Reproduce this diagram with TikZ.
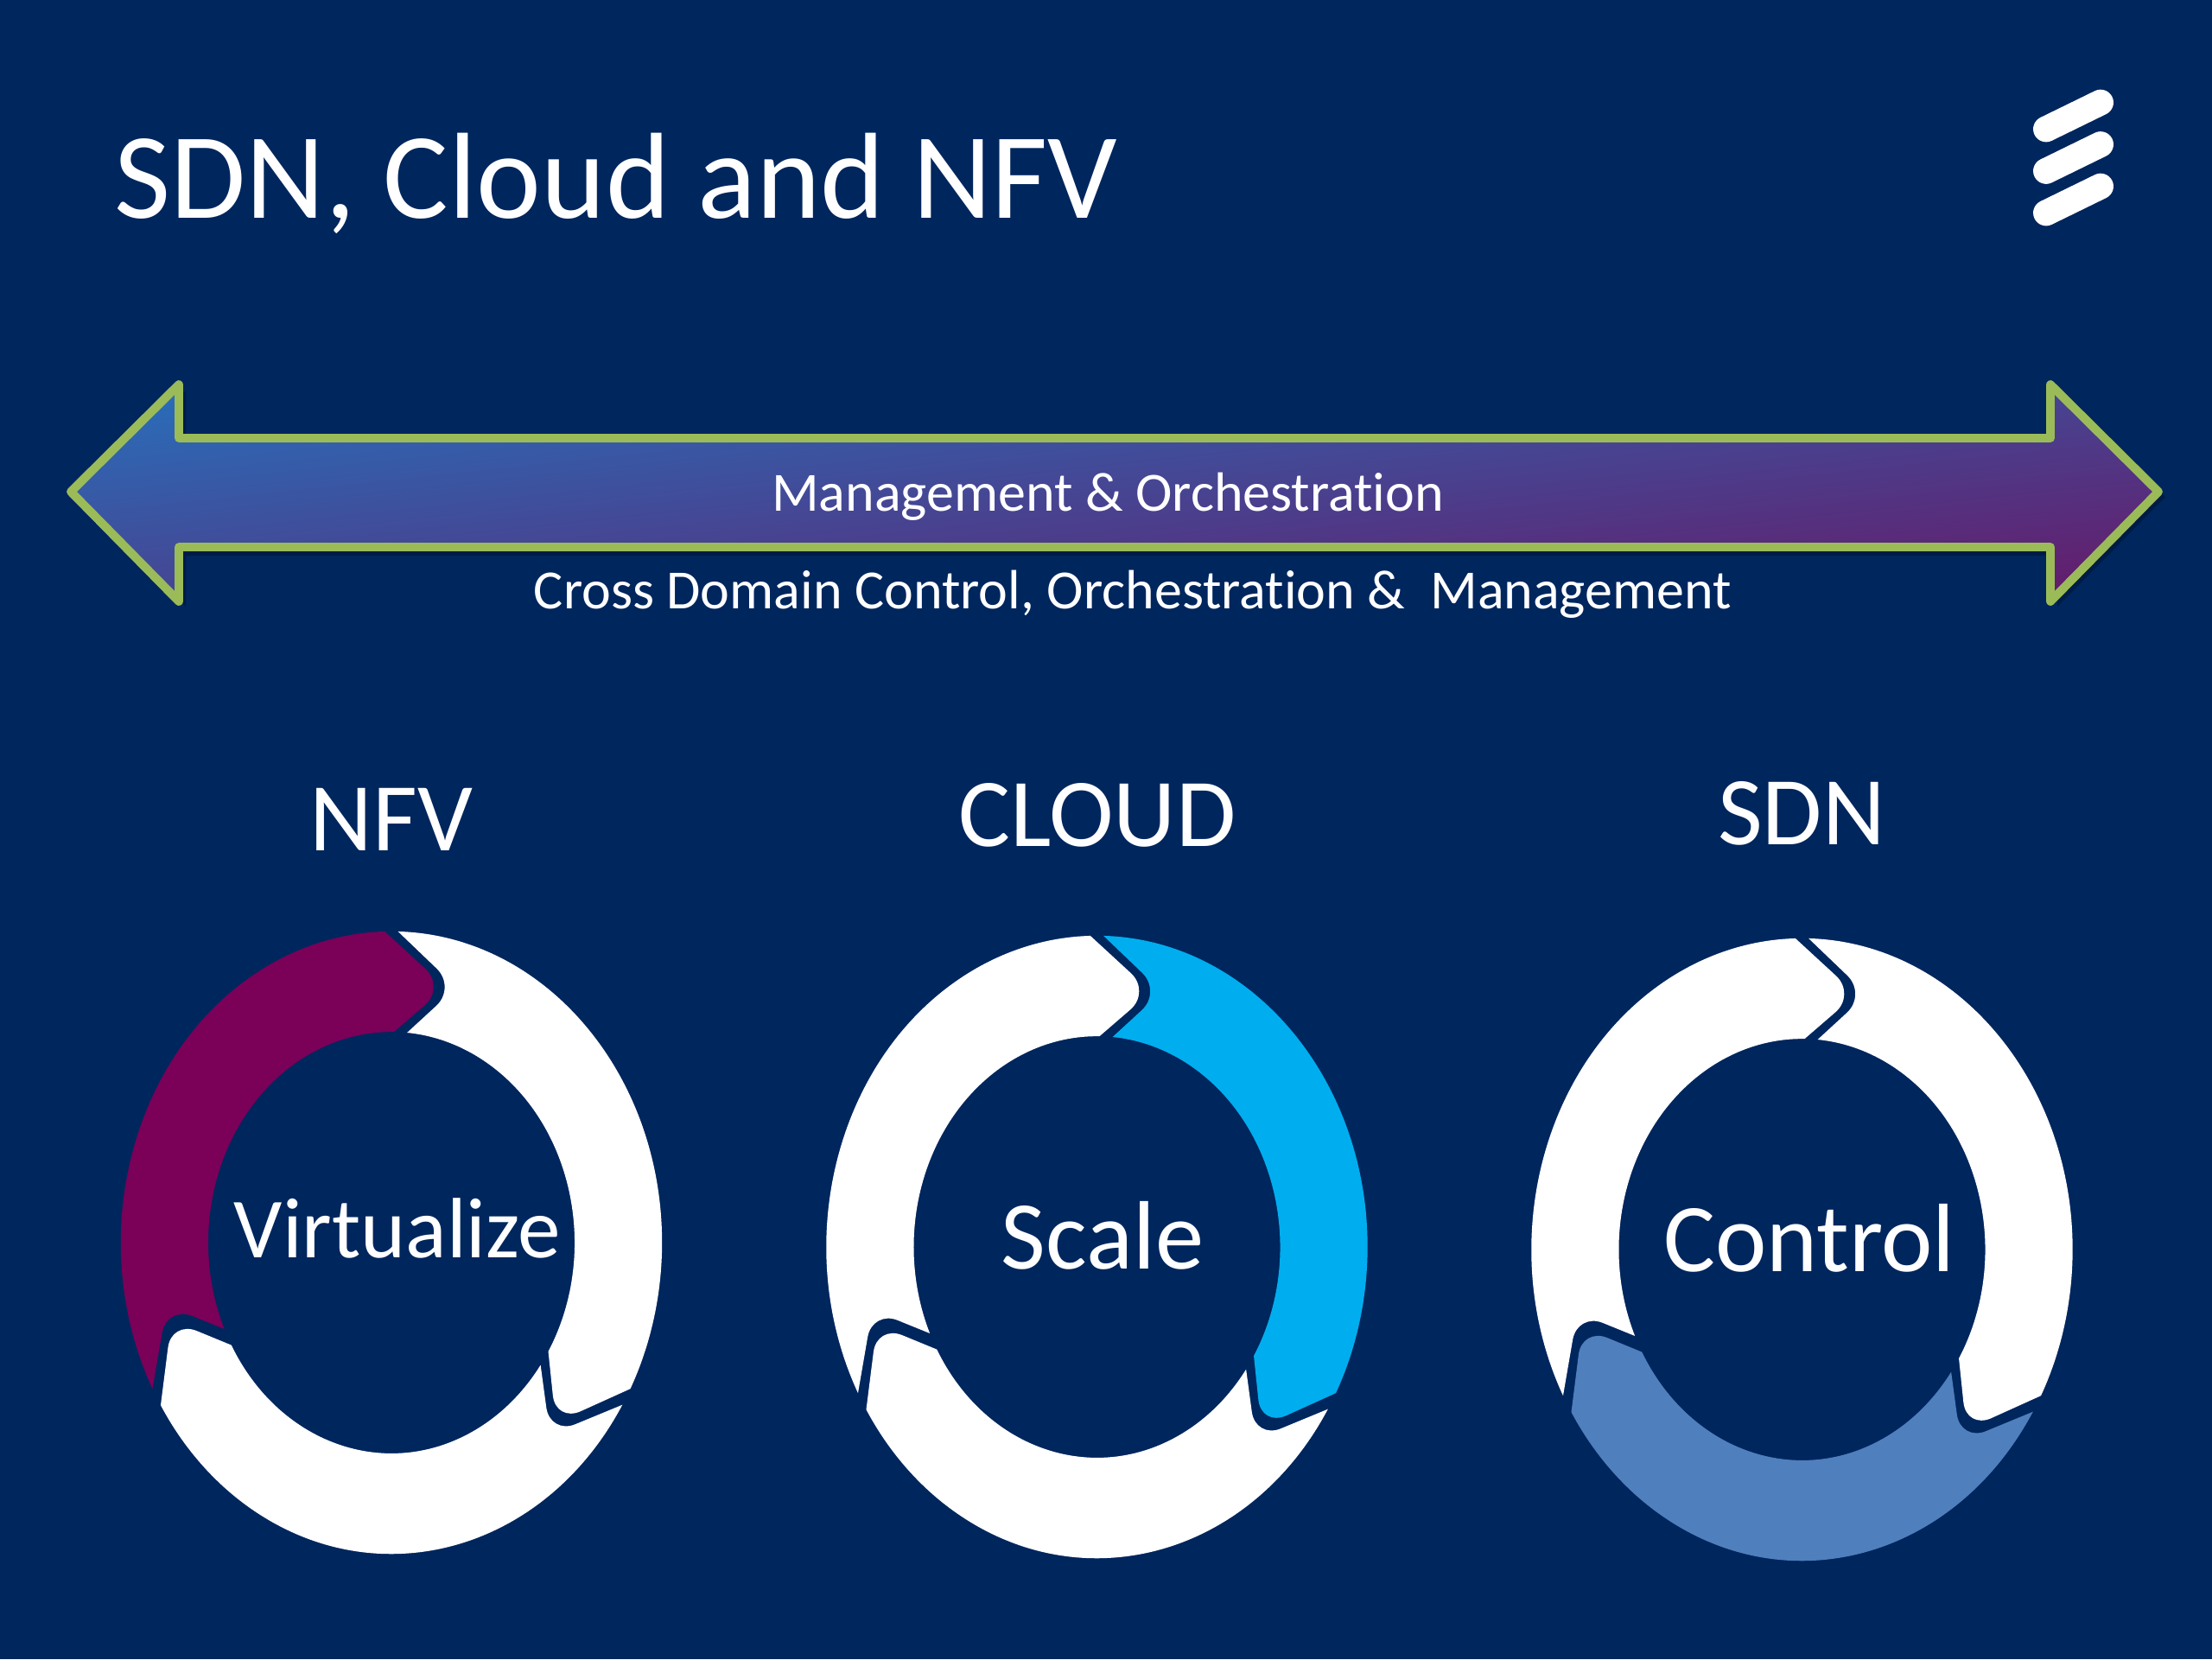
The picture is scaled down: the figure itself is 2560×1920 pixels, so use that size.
\documentclass[tikz,border=0pt]{standalone}
\usepackage{fontspec}
\usepackage{tikz}
\usetikzlibrary{positioning}
\setmainfont{Carlito}[Ligatures=NoCommon]
\definecolor{slidebg}{HTML}{00265E}
\definecolor{plum}{HTML}{7A0058}
\definecolor{skyblue}{HTML}{00AEEF}
\definecolor{steelblue}{HTML}{4F7FBC}
\definecolor{edgegreen}{HTML}{9BBB59}
\definecolor{arrowblue}{HTML}{2A6CB8}
\definecolor{arrowpurple}{HTML}{631D6C}

% one ring, three pieces: #1 centre, #2 left piece, #3 right piece, #4 bottom piece
\newcommand{\ringpieces}[4]{
    \begin{scope}[shift={#1}, x=3.13cm, y=3.6cm]
        % left piece, head at the top
        \fill[#2] (208:1) arc[start angle=208, end angle=91.4, radius=1]
            [rounded corners=9pt] -- (0.2,0.82) [sharp corners] -- (89.2:0.677)
            arc[start angle=89.2, end angle=204.2, radius=0.677]
            [rounded corners=9pt] -- (-0.83,-0.2025) [sharp corners] -- cycle;
        % right piece, head at the lower right
        \fill[#3] (88.6:1) arc[start angle=88.6, end angle=-28, radius=1]
            [rounded corners=9pt] -- (0.607,-0.578) [sharp corners] -- (-31.1:0.677)
            arc[start angle=-31.1, end angle=85.1, radius=0.677]
            [rounded corners=9pt] -- (0.24,0.82) [sharp corners] -- cycle;
        % bottom piece, head at the lower left
        \fill[#4] (-31.4:1) arc[start angle=-31.4, end angle=-148.5, radius=1]
            [rounded corners=9pt] -- (-0.813,-0.25) [sharp corners] -- (209.1:0.677)
            arc[start angle=209.1, end angle=324.5, radius=0.677]
            [rounded corners=9pt] -- (0.586,-0.617) [sharp corners] -- cycle;
    \end{scope}
}

\begin{document}
\begin{tikzpicture}[
    x=0.01cm, y=-0.01cm,
    title/.style={text=white, font=\fontsize{40.3}{41}\selectfont, anchor=base west, inner sep=0},
    band/.style={text=white, font=\fontsize{18.2}{19}\selectfont, anchor=base, inner sep=0},
    heading/.style={text=white, font=\fontsize{32}{33}\selectfont, anchor=base, inner sep=0},
    inside/.style={text=white, font=\fontsize{32}{33}\selectfont, anchor=base, inner sep=0},
    logobar/.style={draw=white, line width=8.5pt, line cap=round}
]
    \fill[slidebg] (0,0) rectangle (2560,1920);
    \useasboundingbox (0,0) rectangle (2560,1920);

    \node[title] (slidetitle) at (132,252) {SDN, Cloud and NFV};

    \foreach \offs in {0,48.5,97} {
        \draw[logobar] (2368,149.4+\offs) -- (2431,118.6+\offs);
    }

    % shadow of the band
    \fill[black, opacity=0.25] (90,575) -- (215,452) -- (215,513) -- (2381,513) -- (2381,452) -- (2506,575)
        -- (2381,702) -- (2381,643) -- (215,643) -- (215,702) -- cycle;
    \draw[draw=edgegreen, line width=2.8pt, line join=round, top color=arrowblue, bottom color=arrowpurple, shading angle=6.1]
        (82,569) -- (207,445) -- (207,507) -- (2373,507) -- (2373,445) -- (2498,569)
        -- (2373,696) -- (2373,633) -- (207,633) -- (207,696) -- cycle;

    \node[band] (mgmt) at (1282,591) {Management \& Orchestration};
    \node[band] (crossdomain) at (1311,704) {Cross Domain Control, Orchestration \&\ \ Management};

    \node[heading] (nfv) at (453,984) {NFV};
    \node[heading] (cloud) at (1270,979) {CLOUD};
    \node[heading] (sdn) at (2085,977) {SDN};

    \ringpieces{(453,1438)}{plum}{white}{white}
    \ringpieces{(1269.5,1443)}{white}{skyblue}{white}
    \ringpieces{(2085.5,1446)}{white}{white}{steelblue}

    \node[inside, font=\fontsize{28.2}{29}\selectfont] (virtualize) at (460,1455) {Virtualize};
    \node[inside] (scale) at (1276,1468) {Scale};
    \node[inside] (control) at (2094,1471) {Control};
\end{tikzpicture}
\end{document}
